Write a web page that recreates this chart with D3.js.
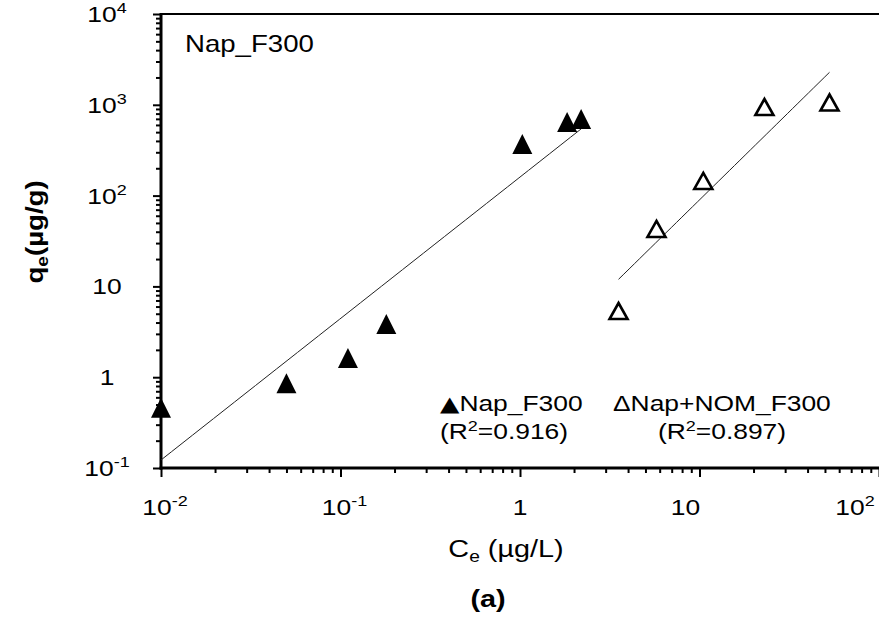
<!DOCTYPE html>
<html>
<head>
<meta charset="utf-8">
<script src="https://cdn.jsdelivr.net/npm/d3@7"></script>
<style>
  html, body { margin: 0; padding: 0; background: #fff; }
  svg { display: block; }
  text { font-family: "Liberation Sans", Arial, sans-serif; fill: #000; }
</style>
</head>
<body>
<svg id="chart" width="879" height="622"></svg>
<script>
// Nap_F300 isotherm (filled triangles)
const napC = [0.01, 0.05, 0.11, 0.18, 1.03, 1.83, 2.19];
const napQ = [0.46, 0.86, 1.63, 3.85, 370, 646, 697];
// Nap+NOM_F300 isotherm (open triangles)
const nomC = [3.54, 5.76, 10.5, 23.0, 53];
const nomQ = [5.36, 42.9, 145, 946, 1060];

// Freundlich fits q = K * C^n, drawn over each series' concentration range
const fitNames = ["Nap_F300", "Nap+NOM_F300"];
const fitK = [160, 1.03];
const fitN = [1.558, 1.94];
const fitR2 = ["0.916", "0.897"];

// axis decades: [mantissa, exponent] ; exponent null means plain text
const xTicks = [0.01, 0.1, 1, 10, 100];
const xTickLabels = [["10", "-2"], ["10", "-1"], ["1", null], ["10", null], ["10", "2"]];
const yTicks = [0.1, 1, 10, 100, 1000, 10000];
const yTickLabels = [["10", "-1"], ["1", null], ["10", null], ["10", "2"], ["10", "3"], ["10", "4"]];

const svg = d3.select("#chart");
const SX = 1.2; // horizontal stretch applied to all lettering

const mLeft = 161, mRight = 879, mTop = 14, mBottom = 468;
const x = d3.scaleLog().domain([0.01, 100]).range([mLeft, mRight]);
const y = d3.scaleLog().domain([0.1, 10000]).range([mBottom, mTop]);

function minorsOf(domain) {
  const out = [];
  for (let e = Math.round(Math.log10(domain[0])); e < Math.round(Math.log10(domain[1])); e++) {
    for (let m = 2; m <= 9; m++) out.push(m * Math.pow(10, e));
  }
  return out;
}

// text helper: parts = [{t, shift, size, family}] ; stretched horizontally
function label(parent, px, py, anchor, parts, size, weight, rotate) {
  const g = parent.append("g")
    .attr("transform", `translate(${px},${py})` + (rotate ? ` rotate(${rotate})` : "") + ` scale(${SX},1)`);
  const t = g.append("text")
    .attr("text-anchor", anchor)
    .attr("font-size", size)
    .attr("font-weight", weight || "normal");
  let prev = 0;
  parts.forEach(p => {
    const s = p.shift || 0;
    const ts = t.append("tspan")
      .attr("dy", s - prev)
      .attr("font-size", p.size || size)
      .text(p.t);
    if (p.family) ts.style("font-family", p.family);
    prev = s;
  });
  return g;
}

// ---- ticks ----
const tickG = svg.append("g");
tickG.append("g").attr("transform", `translate(${mLeft},0)`)
  .call(d3.axisLeft(y).tickValues(yTicks).tickSize(8).tickFormat(() => ""));
tickG.append("g").attr("transform", `translate(${mLeft},0)`)
  .call(d3.axisLeft(y).tickValues(minorsOf(y.domain())).tickSize(5).tickFormat(() => ""));
tickG.append("g").attr("transform", `translate(0,${mBottom})`)
  .call(d3.axisBottom(x).tickValues(xTicks).tickSize(9).tickFormat(() => ""));
tickG.append("g").attr("transform", `translate(0,${mBottom})`)
  .call(d3.axisBottom(x).tickValues(minorsOf(x.domain())).tickSize(5).tickFormat(() => ""));
tickG.selectAll(".domain").remove();
tickG.selectAll(".tick line").attr("stroke", "#000").attr("stroke-width", 2);

// ---- frame ----
svg.append("line").attr("x1", mLeft).attr("x2", mLeft).attr("y1", mTop - 1).attr("y2", mBottom + 1.5)
  .attr("stroke", "#000").attr("stroke-width", 3);
svg.append("line").attr("x1", mLeft - 1.5).attr("x2", mRight).attr("y1", mBottom).attr("y2", mBottom)
  .attr("stroke", "#000").attr("stroke-width", 3);
svg.append("line").attr("x1", mLeft).attr("x2", mRight).attr("y1", mTop).attr("y2", mTop)
  .attr("stroke", "#000").attr("stroke-width", 2);

// ---- tick labels ----
yTicks.forEach((v, i) => {
  const [base, exp] = yTickLabels[i];
  const parts = [{ t: base }];
  if (exp) parts.push({ t: exp, shift: -9, size: 15 });
  label(svg, 107, y(v) + 8, "middle", parts, 22);
});
xTicks.forEach((v, i) => {
  const [base, exp] = xTickLabels[i];
  const parts = [{ t: base }];
  if (exp) parts.push({ t: exp, shift: -9, size: 15 });
  // the last label is kept inside the page edge
  const px = Math.min(x(v) + (exp ? 4 : 0) - (i === 3 ? 14 : 0), 855);
  label(svg, px, 515, "middle", parts, 22);
});

// ---- fit lines ----
const line = d3.line().x(d => x(d[0])).y(d => y(d[1]));
[[napC, 0], [nomC, 1]].forEach(([cs, k]) => {
  const c0 = d3.min(cs), c1 = d3.max(cs);
  const pts = d3.range(0, 41).map(j => {
    const c = Math.pow(10, Math.log10(c0) + (Math.log10(c1) - Math.log10(c0)) * j / 40);
    return [c, fitK[k] * Math.pow(c, fitN[k])];
  });
  svg.append("path").attr("d", line(pts)).attr("fill", "none")
    .attr("stroke", "#222").attr("stroke-width", 1);
});

// ---- markers ----
function tri(w, h) {
  return `M0,${-h / 2}L${w / 2},${h / 2}L${-w / 2},${h / 2}Z`;
}
svg.append("g").selectAll("path").data(napC.map((c, i) => [c, napQ[i]])).join("path")
  .attr("transform", d => `translate(${x(d[0])},${y(d[1])})`)
  .attr("d", tri(20, 20)).attr("fill", "#000");
svg.append("g").selectAll("path").data(nomC.map((c, i) => [c, nomQ[i]])).join("path")
  .attr("transform", d => `translate(${x(d[0])},${y(d[1])})`)
  .attr("d", tri(18, 16)).attr("fill", "#fff").attr("stroke", "#000").attr("stroke-width", 2.6)
  .attr("stroke-linejoin", "miter");

// ---- annotations ----
label(svg, 185, 52, "start", [{ t: "Nap_F300" }], 23);

label(svg, 440, 411, "start", [{ t: "\u25B2", size: 21, family: "DejaVu Sans" }, { t: fitNames[0] }], 22);
label(svg, 440, 439, "start", [{ t: "(R" }, { t: "2", shift: -8, size: 15 }, { t: "=" + fitR2[0] + ")", shift: 0 }], 22);
label(svg, 613, 411, "start", [{ t: "\u0394" + fitNames[1] }], 22);
label(svg, 658, 439, "start", [{ t: "(R" }, { t: "2", shift: -8, size: 15 }, { t: "=" + fitR2[1] + ")", shift: 0 }], 22);

// axis titles
label(svg, 506, 557, "middle", [{ t: "C" }, { t: "e", shift: 5, size: 16 }, { t: " (\u00B5g/L)", shift: 0 }], 24);
label(svg, 43, 232, "middle", [{ t: "q" }, { t: "e", shift: 5, size: 16 }, { t: "(\u00B5g/g)", shift: 0 }], 23, "bold", -90);

label(svg, 488, 607, "middle", [{ t: "(a)" }], 24, "bold");
</script>
</body>
</html>
